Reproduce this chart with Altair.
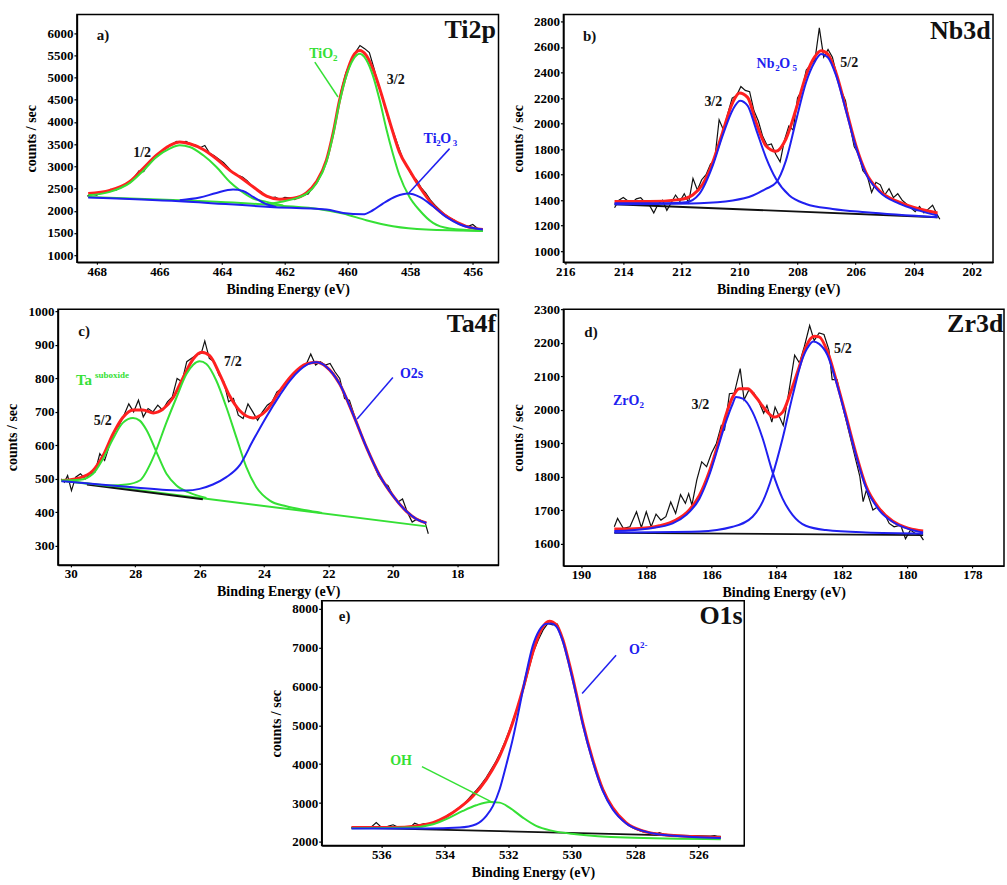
import altair as alt
import pandas as pd

FONT = "Liberation Serif"
RED = "#ff2020"
GREEN = "#35e035"
BLUE = "#2020f0"
BLACK = "#111111"

# ---------------- Panel a : Ti2p ----------------
a_raw = [(468.30,2330),(468.15,2370),(468.00,2350),(467.85,2400),(467.70,2420),(467.55,2480),(467.40,2460),
         (467.25,2520),(467.10,2580),(466.95,2640),(466.80,2750),(466.65,2900),(466.50,2880),(466.35,3060),
         (466.20,3140),(466.05,3230),(465.90,3350),(465.75,3420),(465.60,3500),(465.45,3560),(465.30,3540),
         (465.15,3560),(465.00,3500),(464.85,3480),(464.70,3420),(464.55,3470),(464.40,3300),(464.25,3240),
         (464.10,3160),(463.95,3080),(463.80,2970),(463.65,2850),(463.50,2800),(463.35,2760),(463.20,2680),
         (463.05,2560),(462.90,2480),(462.75,2430),(462.60,2330),(462.45,2290),(462.30,2310),(462.15,2250),
         (462.00,2300),(461.85,2290),(461.70,2250),(461.55,2300),(461.40,2350),(461.25,2380),(461.10,2540),
         (460.95,2660),(460.80,2900),(460.65,3150),(460.50,3600),(460.35,4100),(460.20,4700),(460.05,5100),
         (459.90,5350),(459.75,5560),(459.60,5720),(459.45,5650),(459.30,5560),(459.15,5200),(459.00,4800),
         (458.85,4450),(458.70,4080),(458.55,3800),(458.40,3500),(458.25,3200),(458.10,3000),(457.95,2800),
         (457.80,2700),(457.65,2520),(457.50,2400),(457.35,2240),(457.20,2120),(457.05,2020),(456.90,1920),
         (456.75,1850),(456.60,1790),(456.45,1720),(456.30,1680),(456.15,1650),(456.00,1690),(455.85,1600),
         (455.70,1560)]
a_env = [(468.27,2390),(467.58,2460),(466.94,2660),(466.52,2950),(466.09,3250),(465.67,3470),(465.35,3550),
         (465.03,3510),(464.60,3380),(464.18,3170),(463.75,2910),(463.43,2760),(463.01,2540),(462.58,2330),
         (462.16,2260),(461.73,2280),(461.31,2400),(460.99,2650),(460.67,3140),(460.46,3740),(460.25,4490),
         (460.03,5090),(459.82,5480),(459.61,5610),(459.40,5500),(459.19,5200),(458.97,4750),(458.76,4260),
         (458.55,3770),(458.34,3320),(458.02,2910),(457.70,2540),(457.27,2130),(456.74,1830),(456.21,1650),
         (455.68,1580)]
a_tio2_half = [(468.27,2350),(467.58,2425),(466.94,2627),(466.52,2897),(466.09,3211),(465.67,3399),(465.35,3474),
               (465.03,3436),(464.60,3249),(464.18,2987),(463.75,2649),(463.43,2462),(463.01,2275),(462.58,2200),
               (462.05,2120)]
a_tio2_3half = [(462.58,2150),(462.05,2210),(461.60,2290),(461.31,2380),(460.99,2612),(460.67,3100),(460.46,3699),
                (460.25,4448),(460.03,5048),(459.82,5400),(459.61,5535),(459.40,5400),(459.19,5048),(458.97,4486),
                (458.76,3849),(458.55,3286),(458.34,2799),(458.02,2312),(457.70,2012),(457.27,1727),(456.74,1600),
                (455.68,1547)]
a_green_base = [(468.27,2312),(465.35,2237),(463.65,2185),(462.05,2110),(460.88,2035),(460.14,1937),(459.40,1787),
                (458.55,1652),(457.49,1577),(455.68,1547)]
a_ti2o3_3half = [(468.27,2300),(465.35,2215),(462.47,2087),(460.67,2027),(460.14,1950),(459.50,1922),(459.19,2012),
                 (458.87,2162),(458.44,2327),(458.07,2387),(457.70,2312),(457.27,2102),(456.85,1862),(456.43,1697),
                 (455.68,1577)]
a_ti2o3_half = [(465.35,2237),(464.71,2297),(464.18,2402),(463.65,2477),(463.33,2447),(463.01,2312),(462.58,2147),
                (462.27,2087)]

# ---------------- Panel b : Nb3d ----------------
b_raw = [(214.30,1340),(214.15,1400),(214.00,1420),(213.85,1395),(213.70,1380),(213.55,1410),(213.40,1420),
         (213.25,1380),(213.10,1360),(212.95,1300),(212.80,1370),(212.65,1400),(212.50,1320),(212.35,1380),
         (212.20,1440),(212.05,1390),(211.90,1450),(211.75,1380),(211.60,1570),(211.45,1480),(211.30,1560),
         (211.15,1600),(211.00,1680),(210.85,1720),(210.70,2030),(210.55,1950),(210.40,2080),(210.25,2200),
         (210.10,2220),(209.95,2290),(209.80,2260),(209.65,2250),(209.50,2100),(209.35,2020),(209.20,1900),
         (209.05,1830),(208.90,1840),(208.75,1760),(208.60,1700),(208.45,1870),(208.30,1980),(208.15,1950),
         (208.00,2200),(207.85,2260),(207.70,2420),(207.55,2460),(207.40,2500),(207.25,2750),(207.10,2520),
         (206.95,2580),(206.80,2520),(206.65,2380),(206.50,2260),(206.35,2180),(206.20,1990),(206.05,1820),
         (205.90,1760),(205.75,1630),(205.60,1590),(205.45,1460),(205.30,1540),(205.15,1520),(205.00,1440),
         (204.85,1490),(204.70,1420),(204.55,1450),(204.40,1400),(204.25,1370),(204.10,1340),(203.95,1310),
         (203.80,1350),(203.65,1300),(203.50,1330),(203.35,1360),(203.20,1290),(203.10,1250)]
b_env = [(214.30,1389),(213.10,1389),(212.07,1404),(211.61,1441),(211.26,1527),(210.92,1697),(210.58,1931),
         (210.23,2166),(210.00,2239),(209.72,2205),(209.43,2010),(209.09,1827),(208.74,1783),(208.40,1879),
         (208.05,2114),(207.71,2375),(207.42,2518),(207.19,2570),(206.96,2544),(206.68,2401),(206.33,2114),
         (205.99,1827),(205.65,1618),(205.19,1475),(204.50,1384),(203.81,1331),(203.18,1300)]
b_3half = [(214.30,1376),(212.53,1376),(211.84,1383),(211.38,1449),(210.92,1670),(210.58,1905),(210.23,2109),
           (209.98,2179),(209.72,2140),(209.43,1957),(209.09,1736),(208.74,1566),(208.28,1436),(207.71,1370),
           (206.79,1331),(205.65,1305),(203.18,1266)]
b_5half = [(214.30,1368),(211.38,1376),(210.23,1397),(209.54,1436),(209.09,1488),(208.74,1537),(208.40,1710),
           (208.05,2024),(207.71,2320),(207.42,2478),(207.19,2545),(206.96,2519),(206.68,2381),(206.33,2099),
           (205.99,1815),(205.65,1608),(205.19,1467),(204.50,1372),(203.81,1318),(203.18,1279)]
b_base = [(214.30,1368),(203.18,1266)]

# ---------------- Panel c : Ta4f ----------------
c_raw = [(30.30,500),(30.20,490),(30.10,510),(29.98,465),(29.85,505),(29.70,515),(29.55,500),(29.40,515),
         (29.25,520),(29.10,575),(28.95,555),(28.80,600),(28.65,640),(28.50,660),(28.35,690),(28.20,724),
         (28.05,700),(27.90,735),(27.75,685),(27.60,710),(27.45,700),(27.30,720),(27.15,705),(27.00,730),
         (26.85,745),(26.70,800),(26.55,790),(26.40,850),(26.25,860),(26.10,870),(25.95,875),(25.84,912),
         (25.70,860),(25.55,850),(25.40,810),(25.25,790),(25.10,730),(24.95,740),(24.80,690),(24.65,680),
         (24.50,724),(24.35,700),(24.20,675),(24.05,700),(23.90,720),(23.75,730),(23.60,760),(23.45,770),
         (23.30,790),(23.15,810),(23.00,820),(22.85,830),(22.70,840),(22.55,873),(22.40,840),(22.25,850),
         (22.10,840),(21.95,845),(21.80,820),(21.65,800),(21.50,740),(21.35,735),(21.20,690),(21.05,650),
         (20.90,610),(20.75,580),(20.60,545),(20.45,510),(20.30,490),(20.15,480),(20.00,450),(19.85,430),
         (19.70,440),(19.55,400),(19.40,371),(19.25,380),(19.10,375),(19.00,370),(18.90,336)]
c_env = [(30.29,495),(29.72,503),(29.31,525),(29.00,569),(28.69,634),(28.38,684),(28.07,706),(27.76,706),
         (27.44,697),(27.13,709),(26.82,743),(26.51,803),(26.20,858),(25.94,878),(25.69,868),(25.38,813),
         (25.07,748),(24.76,704),(24.34,682),(23.93,704),(23.51,763),(23.10,813),(22.69,843),(22.38,848),
         (22.07,835),(21.65,783),(21.24,694),(20.82,594),(20.41,510),(20.00,450),(19.58,403),(19.27,380),
         (18.96,368)]
c_5half = [(30.29,495),(29.72,497),(29.31,515),(29.00,560),(28.69,620),(28.38,668),(28.07,682),(27.86,674),
           (27.65,646),(27.34,580),(27.03,515),(26.72,480),(26.30,458),(25.79,443)]
c_7half = [(30.29,494),(29.50,487),(28.79,480),(28.27,483),(27.86,495),(27.44,564),(27.03,669),(26.72,743),
           (26.41,813),(26.20,841),(26.00,851),(25.79,843),(25.48,793),(25.17,714),(24.86,624),(24.55,535),
           (24.24,475),(23.82,435),(23.31,418),(22.69,406),(22.20,398)]
c_o2s = [(30.29,493),(29.10,483),(28.07,475),(27.03,467),(26.41,465),(26.00,470),(25.59,483),(25.17,505),
         (24.76,540),(24.34,615),(23.93,685),(23.51,750),(23.20,793),(22.89,825),(22.58,845),(22.38,848),
         (22.07,835),(21.65,783),(21.24,694),(20.82,594),(20.41,510),(20.00,450),(19.58,403),(19.27,380),
         (18.96,368)]
c_green_base = [(30.29,495),(18.96,358)]
c_black_base = [(29.50,483),(25.90,439)]

# ---------------- Panel d : Zr3d ----------------
d_raw = [(188.98,1650),(188.88,1675),(188.70,1645),(188.50,1650),(188.30,1695),(188.15,1648),(188.00,1695),
         (187.85,1650),(187.70,1688),(187.55,1670),(187.40,1680),(187.25,1724),(187.10,1690),(186.95,1746),
         (186.80,1720),(186.70,1749),(186.60,1715),(186.45,1790),(186.30,1844),(186.15,1830),(186.00,1870),
         (185.85,1899),(185.70,1953),(185.60,1940),(185.45,2048),(185.30,2050),(185.12,2123),(185.00,2030),
         (184.85,2060),(184.70,2050),(184.55,2025),(184.40,1990),(184.30,2013),(184.15,1963),(184.05,2008),
         (183.90,1975),(183.80,1953),(183.65,2040),(183.45,2163),(183.30,2140),(183.15,2190),(182.99,2252),
         (182.85,2207),(182.70,2230),(182.55,2225),(182.40,2180),(182.30,2090),(182.15,2090),(181.95,2000),
         (181.75,1920),(181.60,1860),(181.45,1800),(181.35,1725),(181.25,1760),(181.05,1700),(180.90,1710),
         (180.70,1690),(180.55,1660),(180.40,1650),(180.20,1655),(180.05,1614),(179.90,1640),(179.75,1630),
         (179.60,1625),(179.50,1610)]
d_env = [(188.98,1643),(188.21,1645),(187.60,1653),(187.09,1670),(186.68,1700),(186.37,1744),(186.07,1814),
         (185.81,1894),(185.56,1983),(185.35,2038),(185.15,2063),(184.89,2063),(184.64,2038),(184.33,1998),
         (184.08,1978),(183.82,1993),(183.57,2053),(183.31,2128),(183.11,2187),(182.85,2220),(182.70,2218),
         (182.44,2173),(182.19,2093),(181.88,1983),(181.57,1869),(181.27,1774),(180.86,1705),(180.45,1667),
         (179.94,1645),(179.51,1637)]
d_3half = [(188.98,1637),(187.91,1645),(187.19,1660),(186.78,1685),(186.37,1734),(186.07,1804),(185.81,1884),
           (185.56,1963),(185.35,2018),(185.25,2038),(185.04,2033),(184.74,1993),(184.43,1914),(184.13,1814),
           (183.82,1734),(183.51,1685),(183.11,1653),(182.49,1640),(181.27,1633),(179.51,1630)]
d_5half = [(188.98,1633),(186.37,1636),(185.35,1650),(184.74,1680),(184.43,1725),(184.13,1804),(183.82,1914),
           (183.51,2043),(183.21,2153),(183.01,2192),(182.88,2204),(182.70,2197),(182.44,2163),(182.19,2088),
           (181.88,1978),(181.57,1864),(181.27,1769),(180.86,1700),(180.45,1665),(179.94,1643),(179.51,1633)]
d_base = [(188.98,1632),(179.51,1625)]

# ---------------- Panel e : O1s ----------------
e_raw = [(536.94,2370),(536.80,2385),(536.65,2350),(536.50,2380),(536.35,2360),(536.16,2497),(536.00,2380),
         (535.80,2400),(535.63,2440),(535.45,2370),(535.30,2390),(535.11,2360),(534.95,2480),(534.80,2430),
         (534.65,2470),(534.50,2460),(534.35,2500),(534.20,2560),(534.05,2600),(533.90,2690),(533.75,2760),
         (533.60,2850),(533.45,2940),(533.30,3060),(533.15,3200),(533.00,3330),(532.85,3480),(532.70,3650),
         (532.55,3850),(532.40,4050),(532.25,4300),(532.10,4580),(531.95,4900),(531.80,5250),(531.65,5600),
         (531.50,5980),(531.35,6450),(531.20,6900),(531.05,7200),(530.90,7450),(530.75,7620),(530.60,7580),
         (530.45,7600),(530.30,7250),(530.15,6850),(530.00,6300),(529.85,5800),(529.70,5250),(529.55,4750),
         (529.40,4280),(529.25,3880),(529.10,3520),(528.95,3250),(528.80,2980),(528.65,2800),(528.50,2650),
         (528.35,2520),(528.20,2420),(528.05,2350),(527.90,2300),(527.75,2257),(527.60,2250),(527.45,2230),
         (527.30,2215),(527.24,2240),(527.10,2200),(526.90,2180),(526.70,2160),(526.50,2150),(526.30,2140),
         (526.10,2135),(525.90,2130),(525.70,2125),(525.50,2160),(525.35,2120)]
e_env = [(536.94,2368),(535.63,2368),(534.90,2411),(534.37,2497),(533.95,2651),(533.53,2882),(533.11,3181),
         (532.69,3609),(532.27,4208),(531.86,5064),(531.54,5920),(531.23,6862),(530.96,7461),(530.70,7675),
         (530.49,7589),(530.28,7204),(530.07,6562),(529.86,5835),(529.65,5064),(529.34,4123),(529.02,3353),
         (528.71,2882),(528.29,2497),(527.76,2283),(527.24,2197),(526.19,2137),(525.30,2112)]
e_o2 = [(536.94,2342),(534.58,2342),(533.53,2368),(533.01,2454),(532.69,2668),(532.48,2925),(532.27,3353),
        (532.07,3952),(531.86,4636),(531.65,5449),(531.44,6305),(531.23,7033),(531.02,7444),(530.81,7606),
        (530.65,7615),(530.49,7546),(530.28,7161),(530.07,6519),(529.86,5792),(529.65,5021),(529.34,4080),
        (529.02,3310),(528.71,2839),(528.29,2480),(527.76,2283),(527.24,2189),(526.19,2129),(525.30,2103)]
e_oh = [(536.94,2351),(535.11,2368),(534.37,2454),(533.85,2625),(533.43,2796),(533.01,2942),(532.59,3027),
        (532.27,3010),(531.96,2882),(531.54,2625),(531.12,2411),(530.60,2283),(529.86,2197),(528.29,2112),
        (525.30,2069)]
e_base = [(536.94,2368),(525.30,2137)]

# tick values
a_xt = [456, 458, 460, 462, 464, 466, 468]
a_yt = [1000, 1500, 2000, 2500, 3000, 3500, 4000, 4500, 5000, 5500, 6000]
b_xt = [202, 204, 206, 208, 210, 212, 214, 216]
b_yt = [1000, 1200, 1400, 1600, 1800, 2000, 2200, 2400, 2600, 2800]
c_xt = [18, 20, 22, 24, 26, 28, 30]
c_yt = [300, 400, 500, 600, 700, 800, 900, 1000]
d_xt = [178, 180, 182, 184, 186, 188, 190]
d_yt = [1600, 1700, 1800, 1900, 2000, 2100, 2200, 2300]
e_xt = [526, 528, 530, 532, 534, 536]
e_yt = [2000, 3000, 4000, 5000, 6000, 7000, 8000]


def make_panel(series, notes, leaders, xdom, ydom, xvals, yvals, w, h):
    xs = alt.Scale(domain=xdom, reverse=True, nice=False, zero=False)
    ys = alt.Scale(domain=ydom, nice=False, zero=False)
    xax = alt.Axis(values=xvals, format="d", title="Binding Energy (eV)", tickSize=2,
                   labelPadding=1, titlePadding=4, labelFlush=False)
    yax = alt.Axis(values=yvals, format="d", title="counts / sec", tickSize=3, labelPadding=1,
                   titleX=-41, titleBaseline="alphabetic", labelFlush=False)
    X = alt.X("e:Q", scale=xs, axis=xax)
    Y = alt.Y("v:Q", scale=ys, axis=yax)
    layers = []
    for pts, color, sw, interp in series:
        df = pd.DataFrame(pts, columns=["e", "v"])
        layers.append(alt.Chart(df).mark_line(color=color, strokeWidth=sw, interpolate=interp,
                                               clip=True).encode(x=X, y=Y))
    for (e1, v1, e2, v2, color) in leaders:
        df = pd.DataFrame({"e": [e1], "v": [v1], "e2": [e2], "v2": [v2]})
        layers.append(alt.Chart(df).mark_rule(color=color, strokeWidth=1.5).encode(
            x=X, y=Y, x2="e2:Q", y2="v2:Q"))
    for (t, e, v, color, size, align, dy) in notes:
        df = pd.DataFrame({"e": [e], "v": [v]})
        layers.append(alt.Chart(df).mark_text(text=t, font=FONT, fontWeight="bold", fontSize=size,
                                               color=color, align=align, baseline="middle",
                                               dy=dy).encode(x=X, y=Y))
    return alt.layer(*layers).properties(width=w, height=h,
                                         view=alt.ViewBackground(stroke="black", strokeWidth=1.5))


def spacer(w, h=2):
    df = pd.DataFrame({"e": [0], "v": [0]})
    return alt.Chart(df).transform_filter("datum.e > 1").mark_point().encode(
        x=alt.X("e:Q", axis=None), y=alt.Y("v:Q", axis=None)).properties(
        width=w, height=h, view=alt.ViewBackground(stroke="transparent"))


SUB = 9
panel_a = make_panel(
    [(a_raw, BLACK, 1.2, "linear"), (a_env, RED, 3, "monotone"),
     (a_green_base, GREEN, 2, "monotone"), (a_tio2_half, GREEN, 2, "monotone"),
     (a_tio2_3half, GREEN, 2, "monotone"), (a_ti2o3_3half, BLUE, 2, "monotone"),
     (a_ti2o3_half, BLUE, 2, "monotone")],
    [("a)", 468.0, 5950, BLACK, 15, "left", 0), ("Ti2p", 455.26, 6060, BLACK, 26, "right", 0),
     ("1/2", 466.55, 3290, BLACK, 14, "center", 0), ("3/2", 458.46, 4940, BLACK, 14, "center", 0),
     ("TiO", 460.46, 5535, GREEN, 14, "right", 0), ("2", 460.46, 5535, GREEN, SUB, "left", 4),
     ("Ti", 457.57, 3624, BLUE, 14, "left", 0), ("2", 457.17, 3624, BLUE, SUB, "left", 4),
     ("O", 457.04, 3624, BLUE, 14, "left", 0), ("3", 456.64, 3624, BLUE, SUB, "left", 4)],
    [(461.04, 5348, 460.30, 4561, GREEN), (456.74, 3399, 458.04, 2402, BLUE)],
    [455.18, 468.63], [843, 6420], a_xt, a_yt, 422, 248)

panel_b = make_panel(
    [(b_raw, BLACK, 1.2, "linear"), (b_base, BLACK, 1.8, "linear"), (b_env, RED, 3, "monotone"),
     (b_3half, BLUE, 2, "monotone"), (b_5half, BLUE, 2, "monotone")],
    [("b)", 215.39, 2688, BLACK, 15, "left", 0), ("Nb3d", 201.35, 2727, BLACK, 26, "right", 0),
     ("3/2", 210.90, 2166, BLACK, 14, "center", 0), ("5/2", 206.22, 2474, BLACK, 14, "center", 0),
     ("Nb", 209.41, 2466, BLUE, 14, "left", 0), ("2", 208.77, 2466, BLUE, SUB, "left", 4),
     ("O", 208.63, 2466, BLUE, 14, "left", 0), ("5", 208.17, 2466, BLUE, SUB, "left", 4)],
    [],
    [201.27, 216.06], [914, 2855], b_xt, b_yt, 430, 248)

panel_c = make_panel(
    [(c_raw, BLACK, 1.2, "linear"), (c_env, RED, 3, "monotone"), (c_green_base, GREEN, 2, "linear"),
     (c_black_base, BLACK, 1.8, "linear"), (c_5half, GREEN, 2, "monotone"),
     (c_7half, GREEN, 2, "monotone"), (c_o2s, BLUE, 2, "monotone")],
    [("c)", 29.77, 942, BLACK, 15, "left", 0), ("Ta4f", 16.79, 962, BLACK, 26, "right", 0),
     ("5/2", 29.01, 674, BLACK, 14, "center", 0), ("7/2", 24.97, 848, BLACK, 14, "center", 0),
     ("Ta", 29.84, 795, GREEN, 15, "left", 0), ("suboxide", 29.25, 795, GREEN, SUB, "left", -5),
     ("O2s", 19.42, 813, BLUE, 14, "center", 0)],
    [(20.0, 803, 21.11, 679, BLUE)],
    [16.72, 30.40], [243, 1007], c_xt, c_yt, 441, 256)

panel_d = make_panel(
    [(d_raw, BLACK, 1.2, "linear"), (d_base, BLACK, 1.8, "linear"), (d_env, RED, 3, "monotone"),
     (d_3half, BLUE, 2, "monotone"), (d_5half, BLUE, 2, "monotone")],
    [("d)", 189.90, 2232, BLACK, 15, "left", 0), ("Zr3d", 177.05, 2257, BLACK, 26, "right", 0),
     ("3/2", 186.34, 2013, BLACK, 14, "center", 0), ("5/2", 181.97, 2182, BLACK, 14, "center", 0),
     ("ZrO", 188.21, 2026, BLUE, 14, "right", 0), ("2", 188.21, 2026, BLUE, SUB, "left", 4)],
    [],
    [177.03, 190.54], [1533, 2301], d_xt, d_yt, 441, 257)

panel_e = make_panel(
    [(e_raw, BLACK, 1.2, "linear"), (e_base, BLACK, 1.8, "linear"), (e_env, RED, 3, "monotone"),
     (e_oh, GREEN, 2, "monotone"), (e_o2, BLUE, 2, "monotone")],
    [("e)", 537.34, 7820, BLACK, 15, "left", 0), ("O1s", 524.61, 7803, BLACK, 26, "right", 0),
     ("OH", 535.38, 4080, GREEN, 14, "center", 0),
     ("O", 527.85, 6930, BLUE, 14, "right", 0), ("2-", 527.85, 6930, BLUE, SUB, "left", -5)],
    [(534.72, 3934, 532.48, 3010, GREEN), (528.60, 6802, 529.67, 5817, BLUE)],
    [524.56, 537.88], [1905, 8198], e_xt, e_yt, 423, 245)

row1 = alt.hconcat(spacer(19), panel_a, spacer(65), panel_b, spacing=0, bounds="flush")
row2 = alt.hconcat(panel_c, spacer(65), panel_d, spacing=0, bounds="flush")
row3 = alt.hconcat(spacer(264), panel_e, spacing=0, bounds="flush")

chart = alt.vconcat(row1, spacer(1, 9), row2, row3, spacing=-5).properties(
    padding={"left": 5, "top": 13, "right": 2, "bottom": 0}
).configure_axis(
    labelFont=FONT, labelFontWeight="bold", labelFontSize=13, labelColor="black",
    titleFont=FONT, titleFontWeight="bold", titleFontSize=14, titleColor="black",
    grid=False, domainColor="black", domainWidth=1.5, tickColor="black", tickWidth=1.2
).configure_view(stroke="black", strokeWidth=1.5)

chart.save("out.html", embed_options={"renderer": "svg", "actions": False})
